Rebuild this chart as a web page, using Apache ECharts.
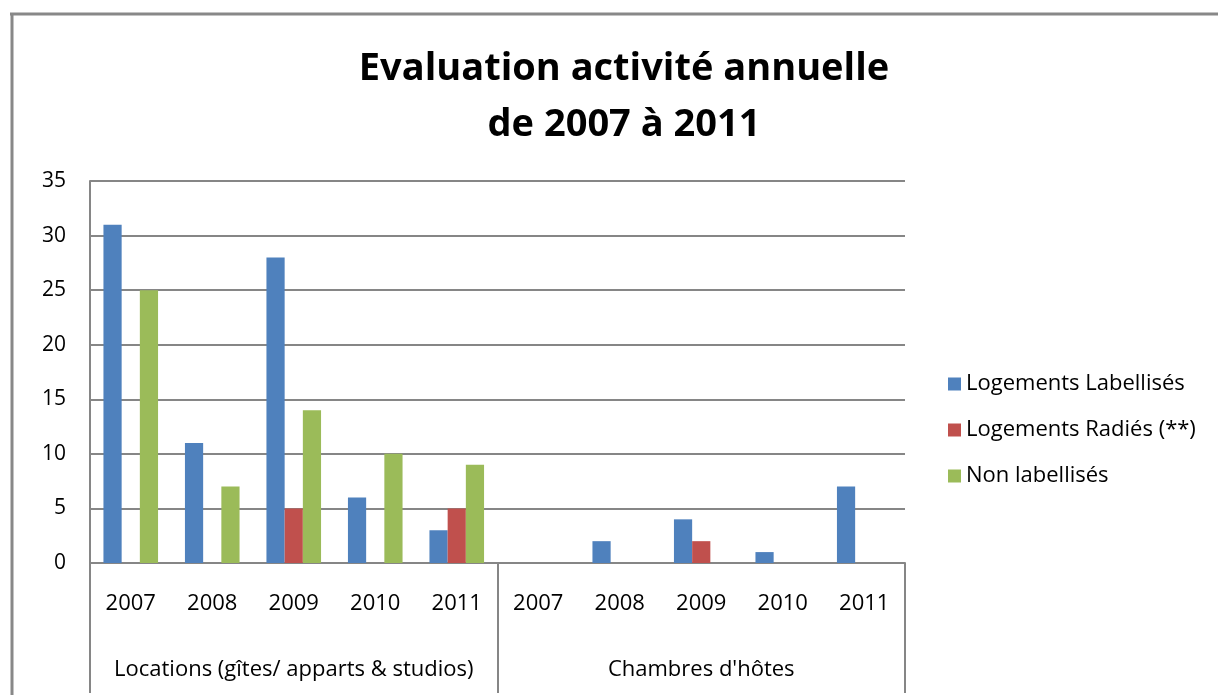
<!DOCTYPE html>
<html>
<head>
<meta charset="utf-8">
<script src="https://cdn.jsdelivr.net/npm/echarts@6/dist/echarts.min.js"></script>
<style>
html,body{margin:0;padding:0;background:#fff;}
#c{width:1218px;height:695px;}
</style>
</head>
<body>
<div id="c"></div>
<script>
const years = ['2007','2008','2009','2010','2011','2007','2008','2009','2010','2011'];
const groups = ['Locations (gîtes/ apparts & studios)', "Chambres d'hôtes"];
const seriesNames = ['Logements Labellisés', 'Logements Radiés (**)', 'Non labellisés'];
const labellises = [31, 11, 28, 6, 3, 0, 2, 4, 1, 7];
const radies = [0, 0, 5, 0, 5, 0, 0, 2, 0, 0];
const nonLabellises = [25, 7, 14, 10, 9, 0, 0, 0, 0, 0];
const yTicks = [0, 35, 5];

const FONT = '"Open Sans", sans-serif';
const GRAY = '#868686';
const chart = echarts.init(document.getElementById('c'));
chart.setOption({
  animation: false,
  title: {
    text: 'Evaluation activité annuelle\nde 2007 à 2011',
    left: 619, top: 36, textAlign: 'center',
    textStyle: {fontFamily: FONT, fontSize: 38, fontWeight: 'bold', color: '#000', lineHeight: 56}
  },
  legend: {
    orient: 'vertical', left: 943, top: 368, itemGap: 24,
    itemWidth: 13, itemHeight: 13, icon: 'rect',
    textStyle: {fontFamily: FONT, fontSize: 22, color: '#000'},
    data: seriesNames
  },
  grid: {left: 90, top: 181, right: 313, bottom: 132},
  xAxis: [{
    type: 'category', data: years,
    axisLine: {show: true, lineStyle: {color: GRAY, width: 2}},
    axisTick: {show: false},
    axisLabel: {margin: 30, fontFamily: FONT, fontSize: 22, color: '#000', interval: 0}
  }, {
    type: 'category', data: groups, position: 'bottom',
    axisLine: {show: false},
    axisTick: {show: true, length: 130, lineStyle: {color: GRAY, width: 2}},
    axisLabel: {margin: 96, fontFamily: FONT, fontSize: 22, color: '#000', interval: 0}
  }],
  yAxis: {
    type: 'value', min: yTicks[0], max: yTicks[1], interval: yTicks[2],
    axisLine: {show: true, lineStyle: {color: GRAY, width: 2}},
    axisTick: {show: false},
    splitLine: {lineStyle: {color: GRAY, width: 2}},
    axisLabel: {margin: 24, fontFamily: FONT, fontSize: 21, color: '#000'}
  },
  series: [
    {name: seriesNames[0], type: 'bar', data: labellises, itemStyle: {color: '#4F81BD'}, barGap: '0%', barCategoryGap: '33%'},
    {name: seriesNames[1], type: 'bar', data: radies, itemStyle: {color: '#C0504D'}, barGap: '0%', barCategoryGap: '33%'},
    {name: seriesNames[2], type: 'bar', data: nonLabellises, itemStyle: {color: '#9BBB59'}, barGap: '0%', barCategoryGap: '33%'}
  ],
  graphic: [
    {type: 'line', shape: {x1: 10, y1: 14, x2: 1218, y2: 14}, style: {stroke: '#888', lineWidth: 3}},
    {type: 'line', shape: {x1: 12, y1: 13, x2: 12, y2: 695}, style: {stroke: '#888', lineWidth: 3}}
  ]
});
</script>
</body>
</html>
